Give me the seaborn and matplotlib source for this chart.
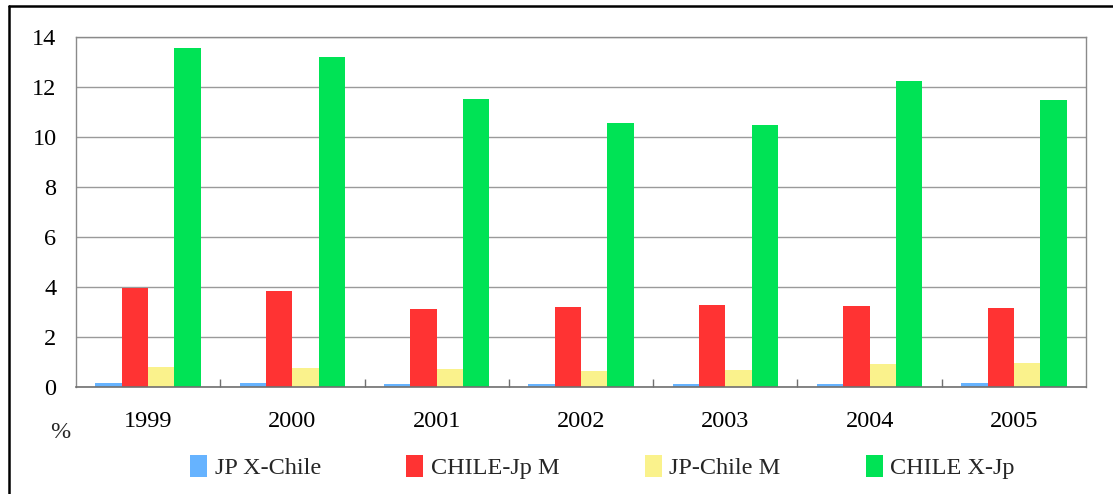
import matplotlib
matplotlib.use("Agg")
import matplotlib.pyplot as plt
import seaborn as sns
import pandas as pd
from matplotlib.lines import Line2D
from matplotlib.patches import Patch

years = ["1999", "2000", "2001", "2002", "2003", "2004", "2005"]
series_names = ["JP X-Chile", "CHILE-Jp M", "JP-Chile M", "CHILE X-Jp"]
jp_x_chile = [0.15, 0.15, 0.13, 0.13, 0.13, 0.13, 0.17]
chile_jp_m = [3.97, 3.83, 3.12, 3.19, 3.29, 3.25, 3.16]
jp_chile_m = [0.80, 0.75, 0.72, 0.65, 0.69, 0.91, 0.96]
chile_x_jp = [13.56, 13.20, 11.52, 10.56, 10.48, 12.24, 11.48]
colors = ["#66B3FF", "#FF3333", "#FAF28C", "#00E355"]
y_ticks = [0, 2, 4, 6, 8, 10, 12, 14]

values = [jp_x_chile, chile_jp_m, jp_chile_m, chile_x_jp]
df = pd.DataFrame(
    [(y, name, v) for name, vals in zip(series_names, values) for y, v in zip(years, vals)],
    columns=["year", "series", "value"],
)

sns.set_theme(style="white")
plt.rcParams["font.family"] = ["Liberation Serif", "DejaVu Serif"]

fig = plt.figure(figsize=(11.13, 4.94), dpi=100)
ax = fig.add_axes([76 / 1113, 1 - 387 / 494, (1086 - 76) / 1113, (387 - 37) / 494])

sns.barplot(
    data=df, x="year", y="value", hue="series", hue_order=series_names,
    order=years, palette=colors, width=0.73, linewidth=0, saturation=1,
    legend=False, ax=ax,
)

ax.set_ylim(0, 14)
ax.set_xlim(-0.5, len(years) - 0.5)
ax.set_yticks(y_ticks)
ax.set_yticklabels([str(t) for t in y_ticks])
ax.yaxis.grid(True, color="#9a9a9a", linewidth=1.0)
ax.set_axisbelow(True)
ax.set_xlabel("")
ax.set_ylabel("")

for side in ["left", "top", "right"]:
    ax.spines[side].set_color("#8a8a8a")
    ax.spines[side].set_linewidth(1.0)
ax.spines["bottom"].set_color("#707070")
ax.spines["bottom"].set_linewidth(1.2)

ax.tick_params(axis="both", which="major", length=0, labelsize=17.5, colors="black")
ax.tick_params(axis="y", pad=14)
ax.tick_params(axis="x", pad=17)
ax.set_xticks([i + 0.5 for i in range(len(years) - 1)], minor=True)
ax.tick_params(axis="x", which="minor", direction="in", length=6, width=1, color="#707070", bottom=True)

fig.text(60 / 1113, 1 - 432 / 494, "%", fontsize=17.5, ha="center", va="center")

handles = [Patch(facecolor=c, edgecolor="none") for c in colors]
fig.legend(
    handles, series_names, loc="center", bbox_to_anchor=(0.5414, 1 - 467 / 494),
    ncol=4, frameon=False, fontsize=17.5, handlelength=0.7, handleheight=1.0,
    handletextpad=0.3, columnspacing=3.52,
)

# outer frame: left and top edges
fig.add_artist(Line2D([8.5 / 1113, 8.5 / 1113], [0, 1 - 6 / 494], color="black", linewidth=1.8, transform=fig.transFigure))
fig.add_artist(Line2D([8.5 / 1113, 1], [1 - 6 / 494, 1 - 6 / 494], color="black", linewidth=1.8, transform=fig.transFigure))

fig.savefig("out.png", dpi=100)
